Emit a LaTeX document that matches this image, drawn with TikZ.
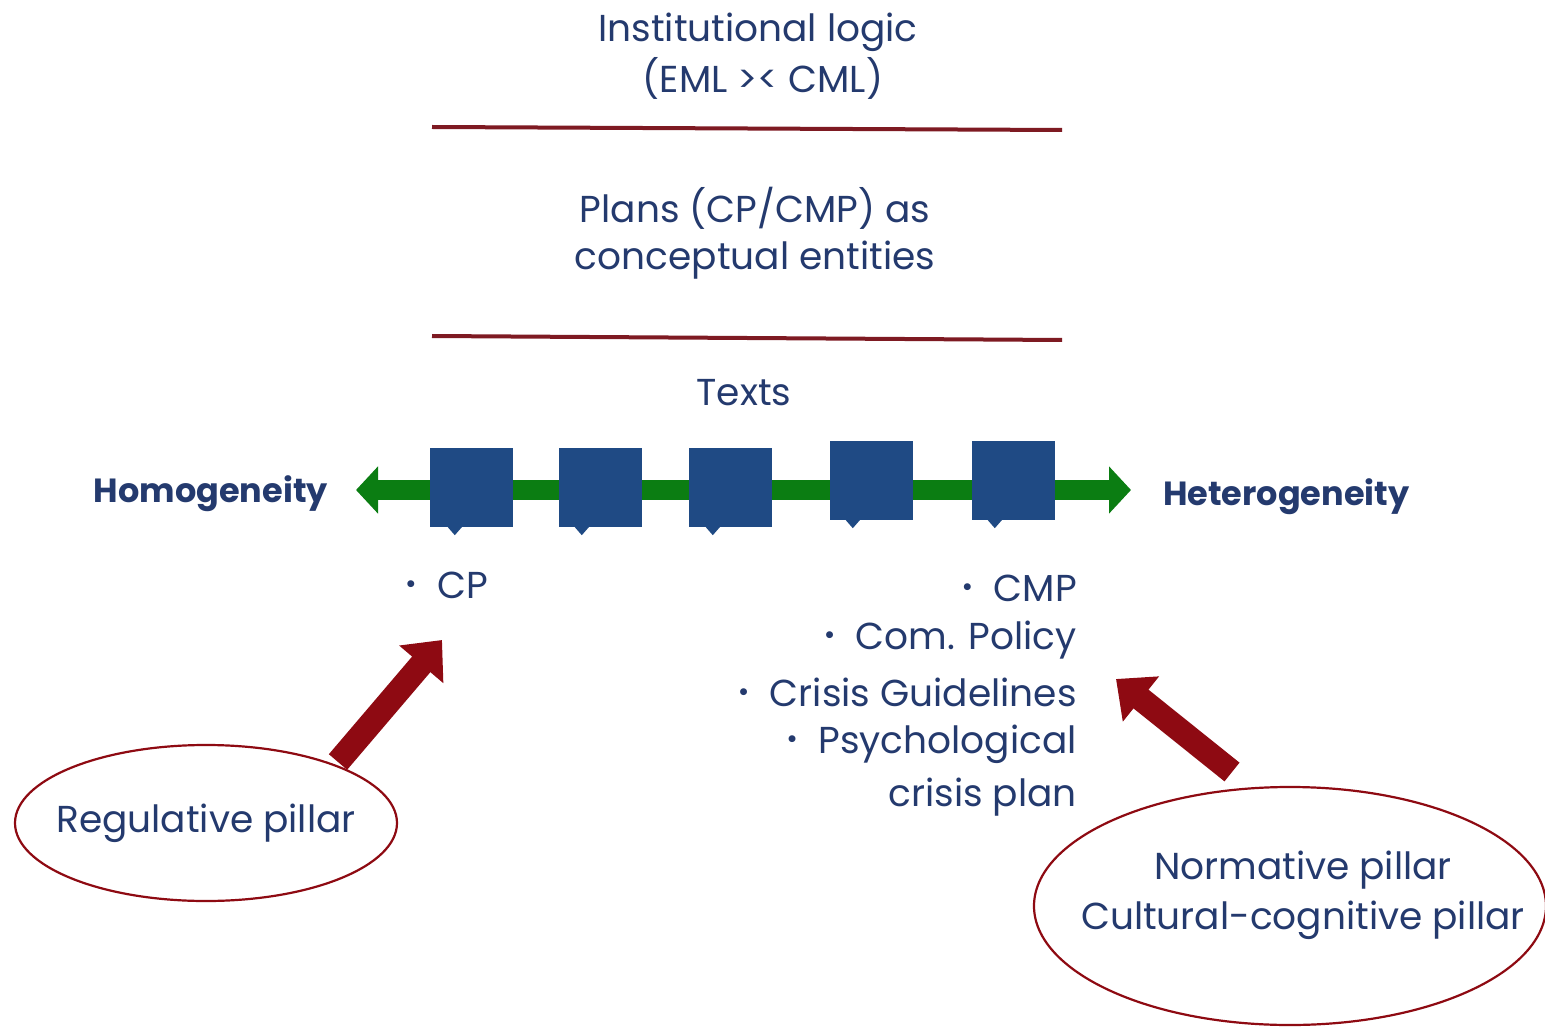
\documentclass[tikz,border=0pt]{standalone}
\usepackage{fontspec}
\setmainfont{Poppins}
\usetikzlibrary{arrows.meta,shapes.geometric}
\definecolor{navy}{HTML}{243A6E}
\definecolor{boxblue}{HTML}{1F4A84}
\definecolor{axisgreen}{HTML}{0B7D12}
\definecolor{rule}{HTML}{7E1A22}
\definecolor{pillarred}{HTML}{8E0A12}
\tikzset{
  txt/.style={text=navy,font=\fontsize{37.5}{44}\selectfont,inner sep=0pt,align=center},
  bold/.style={text=navy,font=\fontsize{33.5}{40}\selectfont\bfseries,inner sep=0pt},
  rline/.style={draw=rule,line width=4pt},
  textbox/.style={fill=boxblue,minimum width=83pt,minimum height=79pt,inner sep=0pt,draw=none},
  pillar/.style={draw=pillarred,line width=2.2pt,ellipse},
  bigarrow/.style={draw=pillarred,line width=24pt,-{Triangle[width=56pt,length=32pt]}},
}
\newcommand{\bul}{{\fontsize{28}{28}\selectfont\raisebox{0.3ex}{•}}\hspace{0.55em}}
\begin{document}
\begin{tikzpicture}[x=1pt,y=-1pt]
\useasboundingbox (0,0) rectangle (1545,1032);
\fill[white] (0,0) rectangle (1545,1032);
% headings
\node[txt] (inst) at (758,32) {Institutional logic};
\node[txt] (eml) at (763,78) {(EML >< CML)};
\coordinate (l1a) at (432,127); \coordinate (l1b) at (1062,130);
\draw[rline] (l1a) -- (l1b);
\node[txt] (plans) at (755,208) {Plans (CP/CMP) as};
\node[txt] (concept) at (755,260) {conceptual entities};
\coordinate (l2a) at (432,336); \coordinate (l2b) at (1062,340);
\draw[rline] (l2a) -- (l2b);
\node[txt] (texts) at (744,393) {Texts};
% axis
\coordinate (axl) at (356,490); \coordinate (axr) at (1131,490);
\draw[axisgreen,line width=20pt,{Triangle[width=46pt,length=22pt]}-{Triangle[width=46pt,length=22pt]}] (axl) -- (axr);
% boxes
\foreach \n/\x/\y/\t in {b1/471.5/487.5/455, b2/600/487.5/582, b3/730/487.5/713, b4/871/480.5/853, b5/1013.5/480.5/995}{
  \node[textbox] (\n) at (\x,\y) {};
  \fill[boxblue] (\n.south west) ++({\t-\x+41.5-7},0) -- ++(7,8) -- ++(7,-8) -- cycle;
}
\node[bold,anchor=east] (homo) at (328,494) {Homogeneity};
\node[bold,anchor=west] (hetero) at (1163,497) {Heterogeneity};
% lists
\node[txt,anchor=west] (cp) at (405,585) {\bul CP};
\node[txt,anchor=east] (cmp) at (1077,588) {\bul CMP};
\node[txt,anchor=east] (com) at (1077,640) {\bul Com. Policy};
\node[txt,anchor=east] (crisis) at (1077,692) {\bul Crisis Guidelines};
\node[txt,anchor=east] (psy) at (1077,744) {\bul Psychological};
\node[txt,anchor=east] (cplan) at (1077,797) {crisis plan};
% pillars
\node[pillar,minimum width=382pt,minimum height=156pt] (reg) at (206,823) {};
\node[txt] at (reg.center) {Regulative pillar};
\node[pillar,minimum width=512pt,minimum height=238pt] (norm) at (1290,906) {};
\node[txt] (normt) at (1303,870) {Normative pillar};
\node[txt] (cult) at (1303,920) {Cultural-cognitive pillar};
\coordinate (a1s) at (338,762); \coordinate (a1e) at (442,640);
\coordinate (a2s) at (1232,772); \coordinate (a2e) at (1116,679);
\draw[bigarrow] (a1s) -- (a1e);
\draw[bigarrow] (a2s) -- (a2e);
\end{tikzpicture}
\end{document}
